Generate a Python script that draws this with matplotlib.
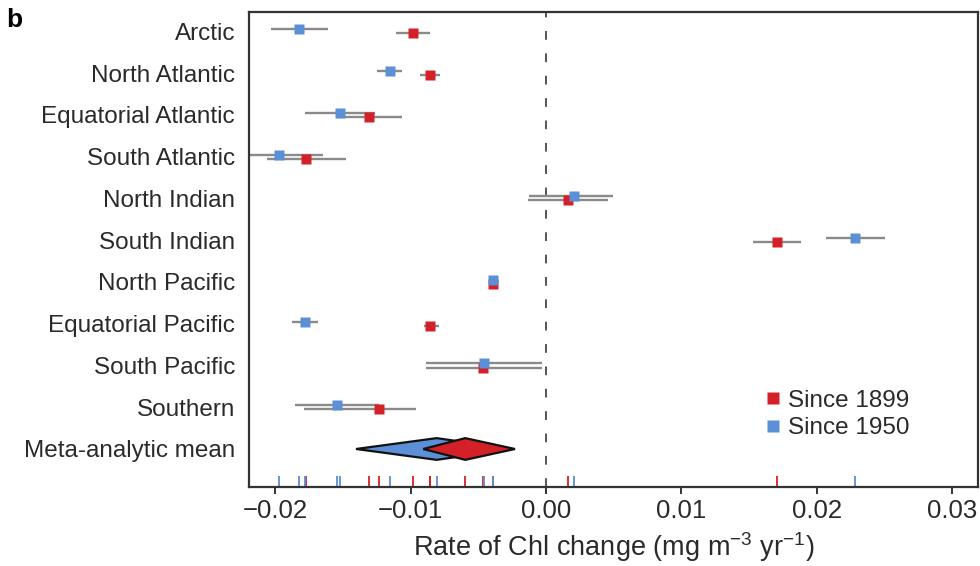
import matplotlib
matplotlib.use("Agg")
import matplotlib.pyplot as plt
from matplotlib.lines import Line2D
import numpy as np

plt.rcParams['font.family'] = ['Liberation Sans', 'DejaVu Sans']

regions = ['Arctic', 'North Atlantic', 'Equatorial Atlantic', 'South Atlantic',
           'North Indian', 'South Indian', 'North Pacific', 'Equatorial Pacific',
           'South Pacific', 'Southern']

# since 1899 (red)
est_1899 = [-0.00985, -0.00857, -0.01306, -0.01772, 0.00165, 0.01705, -0.0039, -0.00855, -0.00466, -0.01237]
lo_1899 = [-0.01109, -0.00931, -0.01545, -0.02064, -0.0013, 0.01528, -0.0041, -0.00899, -0.0089, -0.01789]
hi_1899 = [-0.00857, -0.00783, -0.01067, -0.01478, 0.0046, 0.01885, -0.0037, -0.00791, -0.0003, -0.00961]

# since 1950 (blue)
est_1950 = [-0.01823, -0.01153, -0.01523, -0.01971, 0.00207, 0.02284, -0.0039, -0.01781, -0.00456, -0.01543]
lo_1950 = [-0.02033, -0.01247, -0.01781, -0.0225, -0.00126, 0.02067, -0.0041, -0.01875, -0.00889, -0.01855]
hi_1950 = [-0.01613, -0.01064, -0.01264, -0.0165, 0.00495, 0.02506, -0.0037, -0.01687, -0.00032, -0.01234]

# meta-analytic means (estimate, lower, upper)
meta_1899 = [-0.00597, -0.00907, -0.00229]
meta_1950 = [-0.00808, -0.01404, -0.0025]

red = '#d42027'
blue = '#5b8fd6'
grey = '#8a8a8a'
txt = '#2a2a2a'
fs = 17.5

fig = plt.figure(figsize=(9.8, 5.66), dpi=100)
ax = fig.add_axes([249 / 980, 1 - 487 / 566, 729 / 980, 475 / 566])

y = np.arange(len(regions))
off = 0.05

# CI lines
ax.hlines(y - off, lo_1950, hi_1950, color=grey, lw=1.7, zorder=2)
ax.hlines(y + off, lo_1899, hi_1899, color=grey, lw=1.7, zorder=2)
# point estimates
ax.plot(est_1899, y + off, 's', color=red, ms=7, mec='none', zorder=3)
ax.plot(est_1950, y - off, 's', color=blue, ms=7, mec='none', zorder=4)

# diamonds for meta-analytic mean
ym = len(regions)
h = 0.26
for m, c, z in [(meta_1950, blue, 5), (meta_1899, red, 6)]:
    ax.fill([m[1], m[0], m[2], m[0]], [ym, ym - h, ym, ym + h],
            facecolor=c, edgecolor='#111111', lw=1.6, zorder=z)

# zero line
ax.axvline(0, color='#555555', lw=1.4, dashes=(4.5, 7), zorder=1)

# rug of point estimates along the bottom
trans = ax.get_xaxis_transform()
ax.vlines(est_1899 + [meta_1899[0]], 0, 0.024, color=red, lw=1.3, transform=trans, zorder=2)
ax.vlines(est_1950 + [meta_1950[0]], 0, 0.024, color=blue, lw=1.3, transform=trans, zorder=2)

ax.set_xlim(-0.02195, 0.03193)
ax.set_ylim(10.91, -0.462)
ax.set_yticks(list(y) + [ym])
ax.set_yticklabels(regions + ['Meta-analytic mean'], fontsize=fs, color=txt)
ax.tick_params(axis='y', length=0, pad=10)
ax.set_xticks([-0.02, -0.01, 0.0, 0.01, 0.02, 0.03])
ax.set_xticklabels(['\u22120.02', '\u22120.01', '0.00', '0.01', '0.02', '0.03'], fontsize=18.5, color=txt)
ax.tick_params(axis='x', length=5, width=1.4, color='#333333', pad=4)
ax.set_xlabel('Rate of Chl change (mg m$^{\\mathregular{\u22123}}$ yr$^{\\mathregular{\u22121}}$)',
              fontsize=19.5, color=txt, labelpad=5)
for s in ax.spines.values():
    s.set_linewidth(1.6)
    s.set_color('#333333')

handles = [Line2D([], [], ls='none', marker='s', ms=8, color=red, mec='none'),
           Line2D([], [], ls='none', marker='s', ms=8, color=blue, mec='none')]
ax.legend(handles, ['Since 1899', 'Since 1950'], loc='center left', bbox_to_anchor=(0.709, 0.153),
          frameon=False, fontsize=fs, handlelength=0.6, handletextpad=0.3, borderpad=0,
          labelspacing=0.22, borderaxespad=0, labelcolor=txt)

fig.text(0.006, 0.985, 'b', fontsize=19, weight='bold', va='top', ha='left')

fig.savefig('out.png', dpi=100)
